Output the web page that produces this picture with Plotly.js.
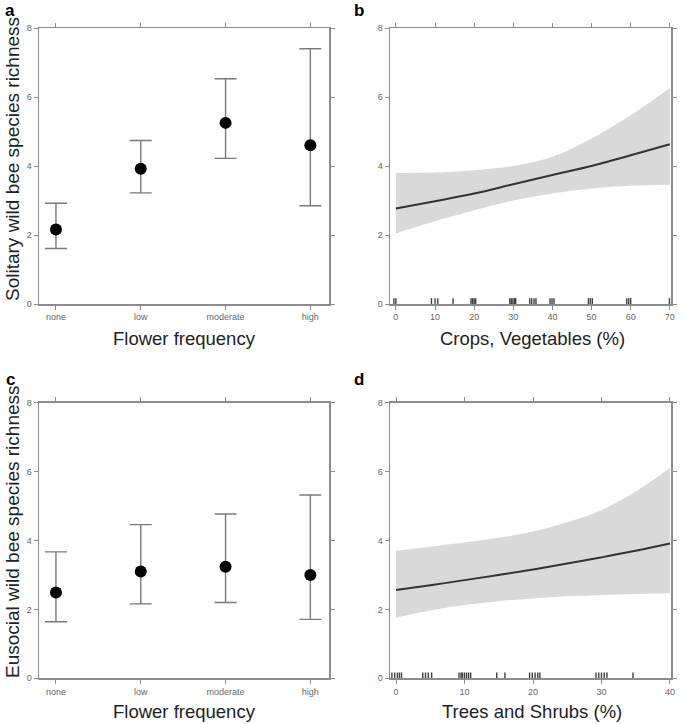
<!DOCTYPE html>
<html>
<head>
<meta charset="utf-8">
<script src="https://cdn.plot.ly/plotly-3.0.1.min.js"></script>
<style>
html,body{margin:0;padding:0;background:#fff;}
#chart{width:685px;height:724px;}
</style>
</head>
<body>
<div id="chart"></div>
<script>
// ---- data ----
const flowerCats = ["none", "low", "moderate", "high"];
const solitaryMean = [2.16, 3.92, 5.25, 4.60];
const solitaryUpper = [2.92, 4.74, 6.53, 7.40];
const solitaryLower = [1.61, 3.22, 4.22, 2.85];

const eusocialMean = [2.49, 3.10, 3.24, 3.00];
const eusocialUpper = [3.67, 4.46, 4.77, 5.32];
const eusocialLower = [1.64, 2.16, 2.20, 1.71];

const cropsX = [0, 10, 20, 30, 40, 50, 60, 70];
const cropsFit = [2.77, 2.98, 3.20, 3.47, 3.74, 4.00, 4.31, 4.63];
const cropsUpper = [3.80, 3.81, 3.88, 4.00, 4.27, 4.80, 5.47, 6.26];
const cropsLower = [2.05, 2.40, 2.72, 3.00, 3.20, 3.35, 3.43, 3.46];
const cropsRug = [-0.5, 0, 9.1, 10.0, 10.7, 14.6, 19.2, 19.6, 20.0, 20.4, 29.1, 29.5, 29.9, 30.3, 30.6,
                  34.2, 34.7, 35.3, 35.8, 39.4, 39.9, 40.4, 49.2, 49.7, 50.2, 59.0, 59.5, 60.0, 69.9];

const treesX = [0, 5, 10, 15, 20, 25, 30, 35, 40];
const treesFit = [2.56, 2.70, 2.85, 3.00, 3.16, 3.33, 3.51, 3.70, 3.91];
const treesUpper = [3.70, 3.82, 3.94, 4.08, 4.26, 4.53, 4.88, 5.42, 6.11];
const treesLower = [1.76, 1.97, 2.13, 2.24, 2.32, 2.38, 2.42, 2.45, 2.47];
const treesRug = [-0.6, -0.2, 0.2, 0.5, 0.8, 3.9, 4.3, 4.7, 5.2, 9.2, 9.5, 9.7, 10.0, 10.3, 10.6, 10.9,
                  14.7, 15.9, 19.5, 19.9, 20.3, 20.7, 21.0, 29.2, 29.6, 30.0, 30.4, 30.8, 34.6];

const yTickVals = [0, 2, 4, 6, 8];
const rugHeight = 0.17;

// ---- helpers ----
function errTrace(means, up, lo, xa, ya) {
  return {
    type: "scatter", mode: "markers", x: flowerCats, y: means, xaxis: xa, yaxis: ya,
    marker: {color: "#000", size: 12},
    error_y: {type: "data", symmetric: false,
      array: up.map((u, i) => u - means[i]),
      arrayminus: lo.map((l, i) => means[i] - l),
      color: "#7a7a7a", thickness: 1.4, width: 11},
    hoverinfo: "x+y", showlegend: false
  };
}
function bandTraces(xs, fit, up, lo, xa, ya) {
  return [
    {type: "scatter", mode: "lines", x: xs, y: lo, xaxis: xa, yaxis: ya,
     line: {width: 0, shape: "spline"}, showlegend: false, hoverinfo: "skip"},
    {type: "scatter", mode: "lines", x: xs, y: up, xaxis: xa, yaxis: ya, fill: "tonexty",
     fillcolor: "#d9d9d9", line: {width: 0, shape: "spline"}, showlegend: false, hoverinfo: "skip"},
    {type: "scatter", mode: "lines", x: xs, y: fit, xaxis: xa, yaxis: ya,
     line: {color: "#333", width: 2, shape: "spline"}, showlegend: false}
  ];
}
function rugTrace(vals, xa, ya) {
  const xs = [], ys = [];
  vals.forEach(v => { xs.push(v, v, null); ys.push(0, rugHeight, null); });
  return {type: "scatter", mode: "lines", x: xs, y: ys, xaxis: xa, yaxis: ya,
    line: {color: "rgba(0,0,0,0.75)", width: 1.4}, showlegend: false, hoverinfo: "skip"};
}

const data = [
  errTrace(solitaryMean, solitaryUpper, solitaryLower, "x", "y"),
  ...bandTraces(cropsX, cropsFit, cropsUpper, cropsLower, "x2", "y2"),
  rugTrace(cropsRug, "x2", "y2"),
  errTrace(eusocialMean, eusocialUpper, eusocialLower, "x3", "y3"),
  ...bandTraces(treesX, treesFit, treesUpper, treesLower, "x4", "y4"),
  rugTrace(treesRug, "x4", "y4")
];

const W = 685, H = 724;
const colA = [39 / W, 329 / W], colB = [390 / W, 671 / W];
const rowTop = [1 - 304 / H, 1 - 28 / H], rowBot = [1 - 678.3 / H, 1 - 402.7 / H];

const axCommon = {
  showline: true, linecolor: "#8c8c8c", linewidth: 1.5, mirror: "ticks",
  ticks: "outside", ticklen: 4, tickwidth: 1, tickcolor: "#8c8c8c",
  showgrid: false, zeroline: false, fixedrange: true,
  tickfont: {family: "Liberation Sans, Arial, sans-serif", size: 9, color: "#666"}
};
function yAx(dom, anchor) {
  return Object.assign({}, axCommon, {domain: dom, anchor: anchor, range: [0, 8], tickvals: yTickVals});
}
function catAx(dom, anchor) {
  return Object.assign({}, axCommon, {domain: dom, anchor: anchor, type: "category",
    categoryorder: "array", categoryarray: flowerCats, range: [-0.2, 3.22]});
}
function numAx(dom, anchor, range, dtick) {
  return Object.assign({}, axCommon, {domain: dom, anchor: anchor, range: range, dtick: dtick, tick0: 0});
}

const titleFont = {family: "Liberation Sans, Arial, sans-serif", size: 18.5, color: "#222"};
const letterFont = {family: "Liberation Sans, Arial, sans-serif", size: 17, color: "#000"};
function ann(text, x, y, font, extra) {
  return Object.assign({text: text, x: x / W, y: 1 - y / H, xref: "paper", yref: "paper",
    showarrow: false, xanchor: "center", yanchor: "middle", font: font}, extra || {});
}

const layout = {
  width: W, height: H, margin: {l: 0, r: 0, t: 0, b: 0},
  paper_bgcolor: "#fff", plot_bgcolor: "#fff", showlegend: false,
  xaxis: catAx(colA, "y"), yaxis: yAx(rowTop, "x"),
  xaxis2: numAx(colB, "y2", [-1.5, 70.3], 10), yaxis2: yAx(rowTop, "x2"),
  xaxis3: catAx(colA, "y3"), yaxis3: yAx(rowBot, "x3"),
  xaxis4: numAx(colB, "y4", [-0.88, 40.15], 10), yaxis4: yAx(rowBot, "x4"),
  annotations: [
    ann("<b>a</b>", 10, 11, letterFont),
    ann("<b>b</b>", 359, 11, letterFont),
    ann("<b>c</b>", 10, 379, letterFont),
    ann("<b>d</b>", 359, 379, letterFont),
    ann("Flower frequency", 184, 339, titleFont),
    ann("Crops, Vegetables (%)", 532, 339, titleFont),
    ann("Flower frequency", 184, 711, titleFont),
    ann("Trees and Shrubs (%)", 532, 711, titleFont),
    ann("Solitary wild bee species richness", 12, 159, Object.assign({}, titleFont, {size: 19}), {textangle: -90}),
    ann("Eusocial wild bee species richness", 12, 532, Object.assign({}, titleFont, {size: 19}), {textangle: -90})
  ]
};

Plotly.newPlot("chart", data, layout, {displayModeBar: false, staticPlot: true});
</script>
</body>
</html>
